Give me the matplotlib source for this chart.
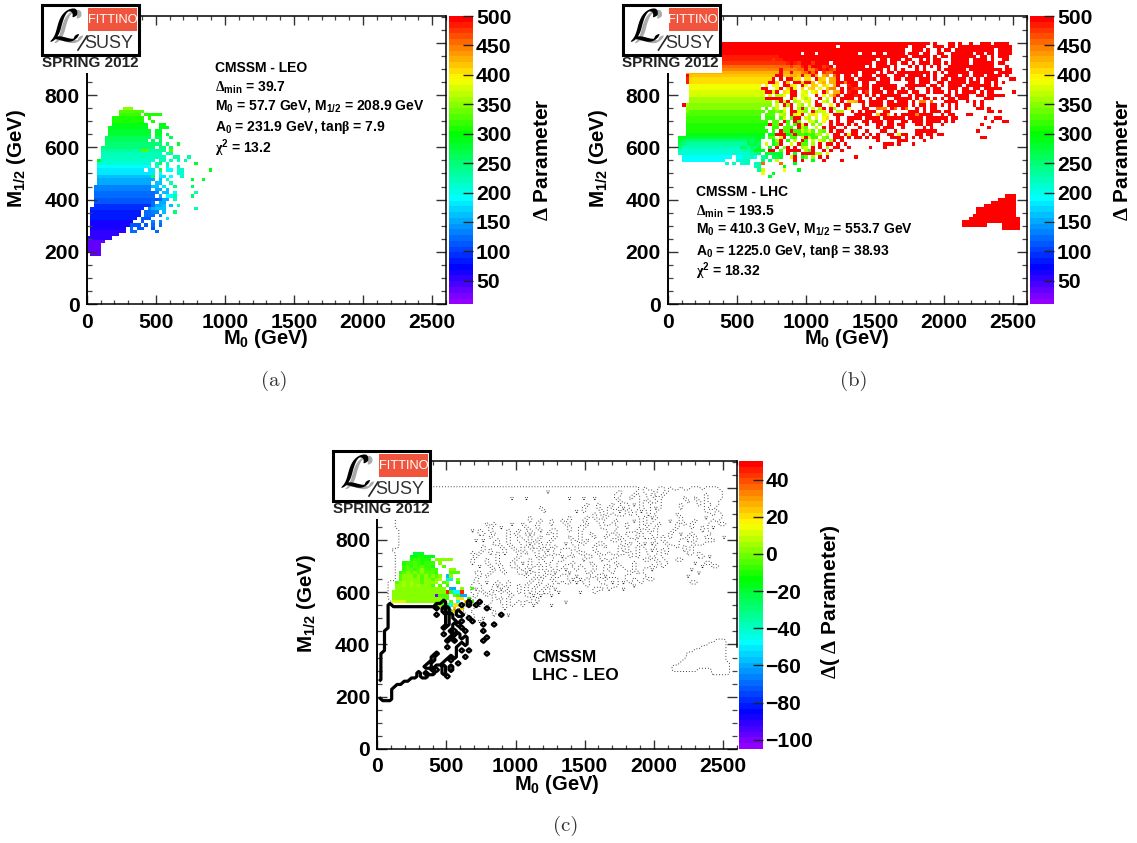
import numpy as np
import matplotlib
matplotlib.use('Agg')
import matplotlib.pyplot as plt
import matplotlib.patheffects as pe
from matplotlib.colors import LinearSegmentedColormap
from matplotlib.patches import Rectangle
from matplotlib.ticker import MultipleLocator

plt.rcParams['font.family'] = ['Liberation Sans', 'DejaVu Sans']
plt.rcParams['font.weight'] = 'bold'
plt.rcParams['mathtext.fontset'] = 'custom'
plt.rcParams['mathtext.rm'] = 'Liberation Sans:bold'
plt.rcParams['mathtext.it'] = 'Liberation Sans:bold'
plt.rcParams['mathtext.bf'] = 'Liberation Sans:bold'
plt.rcParams['mathtext.sf'] = 'Liberation Serif'
plt.rcParams['mathtext.default'] = 'rm'

# Histogram bins (GeV)
x_edges = 26.0 * np.arange(101)
y_edges = 185.0 + 12.4 * np.arange(67)

# Cell codes are base 36 levels, '.' is an empty bin.
# Panel (a), LEO fit, rows from top (row 45) to bottom (row 0)
leo_rows = [
    "..........ooo",
    ".........nnnnnnn",
    ".........mmmmmm.lllll",
    ".......lllllllll.l",
    ".......lllllllll..l",
    ".......kkkkkkkkkk...kk",
    "......kkkkkkkkkkk...kkk",
    "......jjjjjjjjjjjj.jj",
    "......jjjjjjjjjjjj.jj.j",
    ".....iiiiiiiiiiiii.ii..i",
    ".....iiiiiiiiiiii.i.i",
    ".....hhhhhhhhhhhhhhhh.h..j",
    "....hhhhhhhhhhhhhhh.hh.h",
    "....gggggggggggnnggggg.n",
    "....fffffffffffffffff.fg",
    "....ffffffffffffffffff..gg..g",
    "...keeeeeeeeeeeeeee.ff.f.f.g",
    "...eeeeeeeeeeeeeee.fi.f.......j",
    "...ddddddddddddddd.e..e..f",
    "...ccccccccccccc.cc.i.dd.ee.......k",
    "...cccccccccccccccc.d....ee",
    "...bbbbbbbbbbbbbbbi.cc.d..e",
    "...aaaaaaaaaaaaaaaa.b.f......j..j",
    "...aaaaaaaaaaaaaaa.bb..f",
    "..9999999999999999bb.c..h....i",
    "..9999999999999999.aa.b",
    "..888888888888888889.bb.d.....f",
    "..88888888888888888.a.ddg....i",
    "..7777777777777777778aa.f",
    "..77777777777777778.aa",
    "..66666666666666668aab.b.f",
    ".666666666666666.9abbb........f",
    ".55555555555555.8899.b..h",
    ".55555555555555.888.9",
    ".5555555555555.777....c",
    ".444444444444..7..9.9",
    ".44444444444777.7.8.8",
    ".4444444444.8.77..7",
    ".3333333333.88.....8",
    ".33333333",
    "3333333",
    "22222",
    "2222",
    "2222",
    "2222",
    ".222",
]

# Panel (b), LHC fit, rows 65 to 24: columns 0-49 and columns 50-97
lhc_rows_left = [
    "......zzzzzzzzzzzzzzzzzzzzzzzzzzzzzzzzzzzzzzzzzzzz",
    "......zzzzzzzzzzzzzzzzzzzzzzzzzzzzzzzzzzzzzzzzz.zz",
    "......zzzzzzzzzzzzzzzzzzzzzzzzzzzzzzzzzzzzzzzzzzzz",
    "......zzzzzzzzzzzzzzzzzzzzzzzzzzzzzzz.zzz.zzzzzzzz",
    "......yyyyyyyyyyyyyyyyyyyyyyyyyzzzzzzzzzzzzzzzzzzz",
    "......yyyyyyyyyyyyyyyyyyyyyyyxyyzzzzzzzzzzzzzzzzzz",
    "......xxxxxxxxxxxxxxxxxxxxxxxxxxxyzyxzzzxzzzz.zzzz",
    "......wwwwwwwwwwwwwwwwwwwwwwwwwwwwxwwyzwzzzxyz.zzz",
    "......vvvvvvvvvvvvvvvvvvvvvvvvvzvvvvwwzvvxzyzxwzzz",
    ".....uuuuuuuuuuuuuuuuuuuuuuuuuuzuuzuuvwzwz.xwwzzzz",
    ".....zttttttttttttttttttttttttzzttuutzttzu.uv.wz.z",
    ".....ysssssssssssssssssssssssz.z.zzss.ss.zts.uuz.z",
    ".....ysssssssssssssssssssssszzs.zt.zzszzt.su.uuzzv",
    "......rrrrrrrrrrrrrrrrrrrr.r.rr.zzsr.zr.ts.sr.uz.",
    "......rrrrrrrrrrrrrrrrrrrrzz..rz.szr.s.st.r.tvv.z",
    "......qqqqqqqqqqqqqqqqqqqqqzzqz.srzz.rq.rs.zt.uuz.",
    "......qqqqqqqqqqqqqqqqqqqqq.q.ppr.zz.qr..z.r.svz.z",
    "......pppppppppppppppppppppzzzzz..zq.rpr..z.q.z.zz",
    "......ppppppppppppppppppppppp.pzqz.pq.rq.z.qp.z.z",
    "....zpooooooooooooooooooooooo.q.zpz.qo.q.zz..r.z.z",
    ".....ooooooooooooooooooooo.n.oq.r.z.pzo.q.pz.zp..z",
    ".....onnnnnnnnnnnnnnnnnnnnn.nnonq.zzqpo.zpqq.z.pp.",
    ".....nnnnnnnnnnnnnnnnnnnnn.nnn.qp.zqrz.qsr.qr.zzz.",
    ".....mmmmmmmmmmmmmmmmmmmmm.mmm.nq.nzz.qp.q.rs..z.",
    ".....mmmmmmmmmmmmmmmmmmmmmmm.nn.zm.zn..qqn.r.z.z.",
    ".....lllllllllllllllllllllllznnz.n.mzqz.o.p..z.zz.",
    ".....llllllllllllllllllllll..mm.nnm.zpn..q.z.zz..z",
    ".....lllllllllllllllllllllll.m.znnzmmqoqn.on.z.zz.",
    ".....kkkkkkkkkkkkkkkkkkkkkk.kkzzzkmzmnlnmpp.q.zz.z",
    "...kkjjjjjjjjjjjjjjjjjjjjkj.nn.qz.nm.qzqmm.on.zzz",
    "...jihhhhhhhhhhhhhhhhhjhjj...kpz.l.q.zl.q.qo.pz.z",
    "...ihgggggggggggggggggjiji.q.jnz..q.znn.p.z.zz.z.z",
    "...hffffffffffffffffiigihj..k.z.oz.z.pq.z.z.p.zz..",
    "...feeeeeeeeeeeeeeeefgfhkkk.zz.n.zzzz.pnz..z.z..z",
    "...eeeeeeeeeeeeeeeeeefeghh.jjjjj.z.j.zzzzpp.q...",
    "....dddddddddddddd.ddeefd.gh.iik..qz.kn.p.z.z",
    "....dddddddddddd...eefg...h.h.q....z.z..k..z....z",
    "................e.f.eee.fgw....w...k",
    "........................fg......k",
    ".........................gq.....r...k",
    "..........................r..k",
    "............................j",
]
lhc_rows_right = [
    "zzzzzzzzzzzzzzzzzzzzzzz.z...zz.z..z..zzz.zzzz",
    "zzzzzzzzzzzzzzzzz.zzzz..zzz.zz.zzzzzzzzzzzzzzz",
    "zzzzzzzzzzzzzzzz..zzz.z..z.zz.zzzzzzzzzzz.zzzz",
    "zzz.zzz.zz.zzzzz.zzz.zz..zz..zzzzzz.zz.zz.zzzz",
    "zzzzzzzzzzzzzzzzz.zzzzz.z.zz.zzzzzzz.zz.z.zzz",
    "zzzzzzzz.zz.zzz.zz..z.z.zz...zzzzz.zzzz.z..zz.",
    "zzzzzzz.zzz.zz.zz.z.zzz.zz.z.zzzzz.zzzzzz.zz",
    "zzzzz.z.zzzz.z...z.z.z.z.z..zzzzzzzzzzzzz...z",
    "zzzzzzzzzz.z.z.z...z.z...z.zzzzzz.zzzzzzzzz.zz",
    "zzz.zzzz.z.zz.zzzzzzzzz.z.z.zzzzzz.zzzzzz.zzzz",
    "z.z.zzz.zzz..zzz.zzzz.z.z..zzzz.zz.zzz.zzzz.z",
    "zz.zzzzz.zzz.zz.zzz.zzz.z.zz.zzzz.z.z.zzzz...zz",
    "zzz.zz..zzzz.....zz.zzz..zz.zzzzz.zzz.zz.z.z.",
    "yzz.zz.zzzzzzz..zzzzzz.zz.z.zzzz.zzzzzzz.z",
    "zyxyzz.zz.zzzz.z.zz...z.zz..zzz.zz.zz.zzzzz",
    "yzz.zx.zzz.zz.zzz.zz..z.zzz.z.z.zzzz.z.zz.....z",
    "zzyz.z.z.zzzzzz..z.zzz.....zz.zzzz..zz.zzzzz",
    "zz.z..z.zzz..zzzzz.z.zz.z.z.zz.zzz....zzz",
    "ttuzz.zzzz.zz.zzz.z.vv.w...zzzz..z.z.z",
    "z...z.zzzz.zzzzzz.z.zz.zz.z.z.z....z.z",
    "r...zz..wvv.zw.zw..z.z.zz...z.z.....zz.z",
    ".z.z.zzz..zz.....zzz.z.zzz.zz..........zz.z",
    "..zzzzz.tzzt.z.zzzzvzzzz..z.zz...zz.....",
    "zzzz.zzzz.zzzzzz.zzzz.zzzzzz.zz.......z..zz",
    "zz..zz.zzz.zz..zz.zzz.zzzz.z.z..........z..zz",
    "z.z..z..zz.zz.zz...zz.zz..z..........z",
    "...z....z.zzz..z.....z.z...............z",
    ".zz..z...zz..z.....zzzzzz...........z",
    "qzz.z.z.z..zz.qzz..zz.zz.zz",
    "z.zz.z.zz...zzz.z.z.z..z.............zz",
    "........z.....zzz....z",
    "..........zzz.z...z",
    "z.....z...z",
    "",
    "",
    "..z",
    "",
    "",
    "",
    "",
    "",
    "",
]

# Panel (b), the separate red island at high M0
blob_rows = [18, 17, 16, 15, 14, 13, 12, 11, 10, 9, 9, 8]
blob_starts = [94, 92, 90, 88, 86, 86, 85, 84, 82, 82, 93, 93]
blob_stops = [97, 97, 97, 97, 97, 97, 97, 98, 98, 89, 98, 98]

# Panel (c), LHC - LEO difference, rows 45 to 27
diff_rows = [
    "..........jjj",
    ".........kkllkkk",
    ".........lmmlll.ooooo",
    ".......lmmnmlmmm.o",
    ".......mnmnmnmml..n",
    ".......mnnmnonmnm...oo",
    "......mnonononnnm...nnn",
    "......nooonononono.bo",
    "......nooooonoonop.ee.o",
    ".....nopopoonooop.no..m",
    ".....oopopopooon.n.m",
    ".....oooooooooooooo.aa.o..m",
    "....oooooooooooooooymddy",
    "....oooooooooooo1nnn.nmaa",
    "....oooooooooooooonn..ss.m",
    "....qqqqoooooooooon.n.d.s.m",
    "................oomndss..y",
    "..................yn.u.s",
    "....................nss",
]

# Colour scales
delta_low, delta_high = 10, 500
delta_ticks = [50, 100, 150, 200, 250, 300, 350, 400, 450, 500]
diff_low, diff_high = -105, 50
diff_ticks = [-100, -80, -60, -40, -20, 0, 20, 40]

# Text of the panels
leo_text = ["CMSSM - LEO", r"$\mathsf{\Delta}_{min}$ = 39.7",
            r"M$_{0}$ = 57.7 GeV, M$_{1/2}$ = 208.9 GeV",
            r"A$_{0}$ = 231.9 GeV, tan$\mathsf{\beta}$ = 7.9",
            r"$\mathsf{\chi}^{2}$ = 13.2"]
lhc_text = ["CMSSM - LHC", r"$\mathsf{\Delta}_{min}$ = 193.5",
            r"M$_{0}$ = 410.3 GeV, M$_{1/2}$ = 553.7 GeV",
            r"A$_{0}$ = 1225.0 GeV, tan$\mathsf{\beta}$ = 38.93",
            r"$\mathsf{\chi}^{2}$ = 18.32"]

palette = LinearSegmentedColormap.from_list('root_rainbow', [
    (0.0, (0.58, 0.0, 1.0)), (0.12, (0.0, 0.0, 1.0)), (0.367, (0.0, 1.0, 1.0)),
    (0.592, (0.0, 1.0, 0.0)), (0.786, (1.0, 1.0, 0.0)), (0.90, (1.0, 0.5, 0.0)),
    (1.0, (1.0, 0.0, 0.0))], N=50)


# Turn rows of level codes into a histogram array
def fill_grid(rows, top_row, low, high):
    grid = np.full((66, 100), np.nan)
    step = (high - low) / 35.0
    for k, row in enumerate(rows):
        for c, code in enumerate(row):
            if code != '.':
                grid[top_row - k, c] = low + step * int(code, 36)
    return grid


leo = fill_grid(leo_rows, 45, delta_low, delta_high)
lhc_joined = [a.ljust(50, '.')[:50] + b for a, b in zip(lhc_rows_left, lhc_rows_right)]
lhc = fill_grid(lhc_joined, 65, delta_low, delta_high)
for r, start, stop in zip(blob_rows, blob_starts, blob_stops):
    lhc[r, start:stop] = delta_high
diff = fill_grid(diff_rows, 45, diff_low, diff_high)

W, H = 1137, 843
fig = plt.figure(figsize=(W / 100, H / 100), dpi=100)


def pixel_axes(left, top, right, bottom, **kw):
    return fig.add_axes([left / W, 1 - bottom / H, (right - left) / W, (bottom - top) / H], **kw)


def draw_panel(grid, box, bar_box, low, high, ticks):
    ax = pixel_axes(*box)
    mesh = ax.pcolormesh(x_edges, y_edges, np.ma.masked_invalid(grid), cmap=palette,
                         vmin=low, vmax=high, linewidth=0, antialiased=False)
    ax.set_xlim(0, 2600)
    ax.set_ylim(0, 1102)
    ax.xaxis.set_major_locator(MultipleLocator(500))
    ax.xaxis.set_minor_locator(MultipleLocator(100))
    ax.yaxis.set_major_locator(MultipleLocator(200))
    ax.yaxis.set_minor_locator(MultipleLocator(50))
    ax.tick_params(which='major', direction='in', top=True, right=True, labelsize=15.2,
                   width=1.0, color='#333333', pad=5)
    ax.tick_params(axis='x', which='major', length=6.2, pad=6)
    ax.tick_params(axis='y', which='major', length=7.5)
    ax.tick_params(axis='x', which='minor', direction='in', top=True, length=3.1, width=0.9, color='#444444')
    ax.tick_params(axis='y', which='minor', direction='in', right=True, length=3.8, width=0.9, color='#444444')
    for side in ax.spines.values():
        side.set_linewidth(1.1)
    ax.spines['left'].set_linewidth(1.4)

    cax = pixel_axes(*bar_box)
    bar = fig.colorbar(mesh, cax=cax, ticks=ticks)
    bar.outline.set_visible(False)
    cax.tick_params(direction='in', length=7.5, width=1.0, color='#222222', labelsize=15.2, pad=2)
    return ax


ax_a = draw_panel(leo, (86.7, 16, 446, 304.3), (449, 16, 473.3, 304.3), delta_low, delta_high, delta_ticks)
ax_b = draw_panel(lhc, (667.7, 16, 1026.7, 304.3), (1030, 16, 1054.3, 304.3), delta_low, delta_high, delta_ticks)
ax_c = draw_panel(diff, (377.3, 461, 736.7, 749), (739, 461, 762.5, 749), diff_low, diff_high, diff_ticks)
ax_c.spines['right'].set_bounds(390, 1102)

# Contours of the two fits on the difference panel, padded so they close at the grid ends
x_mid = 0.5 * (x_edges[:-1] + x_edges[1:])
y_mid = 0.5 * (y_edges[:-1] + y_edges[1:])
y_pad = np.concatenate(([y_mid[0] - 12.4], y_mid, [y_mid[-1] + 12.4]))
has_leo = ~np.isnan(leo)
has_lhc = ~np.isnan(lhc)
lhc_outline = np.pad(has_lhc.astype(float), ((1, 1), (0, 0)))
leo_outline = np.pad((has_leo & ~has_lhc).astype(float), ((1, 1), (0, 0)))
ax_c.contour(x_mid, y_pad, lhc_outline, levels=[0.5], colors='#222222',
             linewidths=0.65, linestyles=[(0, (1, 2.2))])
ax_c.contour(x_mid, y_pad, leo_outline, levels=[0.5], colors='black', linewidths=2.3)

# Page overlay in pixel coordinates for logos and free text
page = fig.add_axes([0, 0, 1, 1], facecolor='none', zorder=10)
page.set_xlim(0, W)
page.set_ylim(H, 0)
page.axis('off')


def draw_logo(dx, dy):
    page.add_patch(Rectangle((dx + 10, dy), 131, 72.5, facecolor='white', edgecolor='none'))
    page.add_patch(Rectangle((dx + 42, dy + 5), 97, 49.5, facecolor='white', edgecolor='black', linewidth=2.2))
    page.add_patch(Rectangle((dx + 88, dy + 8), 49, 23, facecolor='#f0543c', edgecolor='none'))
    page.text(dx + 112.5, dy + 20, 'FITTINO', color='white', fontsize=9.3, ha='center', va='center',
              fontweight='normal')
    page.text(dx + 109, dy + 43, 'SUSY', color='#333333', fontsize=13, ha='center', va='center', fontweight='normal')
    page.text(dx + 65, dy + 29, r'$\mathcal{L}$', color='black', fontsize=33, ha='center', va='center',
              math_fontfamily='cm',
              path_effects=[pe.SimplePatchShadow(offset=(3, -1), shadow_rgbFace='#aaaaaa', alpha=1.0), pe.Normal()])
    page.plot([dx + 78, dx + 87], [dy + 50, dy + 36], color='#222222', lw=1.2)
    page.text(dx + 90, dy + 63, 'SPRING 2012', color='#222222', fontsize=11, ha='center', va='center')


draw_logo(0, 0)
draw_logo(580.5, 0)
draw_logo(291, 446)

# Axis titles
xlabel = r'M$_{0}$ (GeV)'
ylabel = r'M$_{1/2}$ (GeV)'
for cx, cy in [(266, 339), (847, 339), (557, 784)]:
    page.text(cx, cy, xlabel, fontsize=14.5, ha='center', va='center')
for cx, cy in [(17, 158), (598, 158), (307, 603)]:
    page.text(cx, cy, ylabel, fontsize=14.8, ha='center', va='center', rotation=90)
page.text(543, 160, r'$\mathsf{\Delta}$ Parameter', fontsize=15, ha='center', va='center', rotation=90)
page.text(1123, 160, r'$\mathsf{\Delta}$ Parameter', fontsize=15, ha='center', va='center', rotation=90)
page.text(830, 602, r'$\mathsf{\Delta}$( $\mathsf{\Delta}$ Parameter)', fontsize=15, ha='center', va='center', rotation=90)

# Fit summaries
for line, y in zip(leo_text, [68, 88, 106, 128, 148]):
    page.text(215, y, line, fontsize=10, va='center')
for line, y in zip(lhc_text, [192, 212, 229, 252, 271]):
    page.text(696, y, line, fontsize=10, va='center')
page.text(532, 657, 'CMSSM', fontsize=12.5, va='center')
page.text(532, 676, 'LHC - LEO', fontsize=12.5, va='center')

# Sub figure captions
for cx, cy, cap in [(274, 381, '(a)'), (854, 381, '(b)'), (566, 826, '(c)')]:
    page.text(cx, cy, cap, family='cmr10', fontweight='normal', fontsize=15, color='#333333',
              ha='center', va='center')

plt.savefig('out.png', dpi=100)
plt.close()
